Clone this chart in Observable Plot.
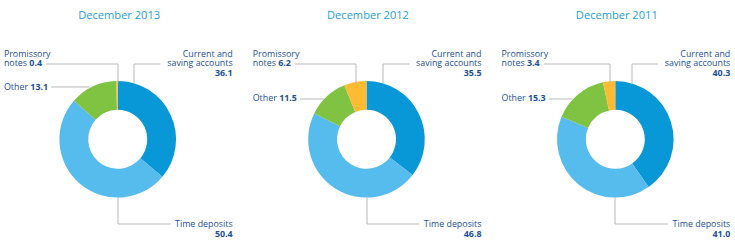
<!DOCTYPE html>
<html>
<head>
<meta charset="utf-8">
<script src="https://cdn.jsdelivr.net/npm/d3@7"></script>
<script src="https://cdn.jsdelivr.net/npm/@observablehq/plot@0.6"></script>
<style>
  body { margin: 0; background: #fff; }
  svg { display: block; }
</style>
</head>
<body>
<div id="chart"></div>
<script>
// ---------- data ----------
const periods = ["December 2013", "December 2012", "December 2011"];
const categories = ["Current and saving accounts", "Time deposits", "Other", "Promissory notes"];
const current = [36.1, 35.5, 40.3];
const timeDeposits = [50.4, 46.8, 41.0];
const other = [13.1, 11.5, 15.3];
const promissory = [0.4, 6.2, 3.4];
const colors = ["#0898d8", "#55bced", "#80c342", "#fdbb34"];

// ---------- layout ----------
const W = 735, H = 243;
const centerX = [117.7, 366.5, 615.3];
const centerY = 139.3, outerR = 58.3, innerR = 29.5;
const rightInset = 114.5, leftInset = 114.3;
const topLineY = 62.7, timeLineY = 223.3, lineStep = 9.8;
const otherDy = [-53, -41.6, -41.6];
const fontFamily = "'Open Sans', sans-serif";
const labelSize = 8.9, titleSize = 11.1;
const labelColor = "#1d5196", titleColor = "#1ea0dc", leaderColor = "#b9b9b9";

const fmt = v => v.toFixed(1);
const series = [current, timeDeposits, other, promissory];
const colorScale = Plot.scale({color: {type: "ordinal", domain: categories, range: colors}});

const ctx = document.createElement("canvas").getContext("2d");
function textWidth(s, bold) {
  ctx.font = `${bold ? "bold " : ""}${labelSize}px ${fontFamily}`;
  return ctx.measureText(s).width;
}
const px = v => Math.round(v) + 0.5;

const pies = periods.map((p, i) =>
  d3.pie().sort(null).value(d => d.value)(
    categories.map((c, j) => ({category: c, value: series[j][i]}))
  )
);

// labels and leader lines
const rightLabels = [];
const leftLabels = [];
const leaders = [];
periods.forEach((p, i) => {
  const cx = centerX[i];
  const rx = cx + rightInset, lx = cx - leftInset;
  rightLabels.push({x: rx, y: topLineY, text: `Current and\nsaving accounts\n${fmt(current[i])}`});
  rightLabels.push({x: rx, y: timeLineY + lineStep / 2, text: `Time deposits\n${fmt(timeDeposits[i])}`});
  leftLabels.push({x: lx, y: topLineY - lineStep / 2, text: `Promissory\nnotes ${fmt(promissory[i])}`});
  const oy = centerY + otherDy[i];
  leftLabels.push({x: lx, y: oy, text: `Other ${fmt(other[i])}`});

  // current leader
  const dxC = 15.6;
  const xc = px(cx + dxC);
  [[xc, centerY - Math.sqrt(outerR * outerR - dxC * dxC)], [xc, px(topLineY)], [cx + 41.8, px(topLineY)]]
    .forEach(([x, y]) => leaders.push({id: `c${i}`, x, y}));
  // promissory leader
  const a = pies[i][3];
  const mid = (a.startAngle + a.endAngle) / 2;
  const xp = px(cx + outerR * Math.sin(mid));
  const promEnd = lx + textWidth("notes ", false) + textWidth(fmt(promissory[i]), true) + 4.5;
  [[xp, centerY - outerR * Math.cos(mid) + 1], [xp, px(topLineY)], [promEnd, px(topLineY)]]
    .forEach(([x, y]) => leaders.push({id: `p${i}`, x, y}));
  // other leader
  const otherEnd = lx + textWidth("Other ", false) + textWidth(fmt(other[i]), true) + 3.5;
  const dy = otherDy[i];
  [[otherEnd, px(oy)], [cx - Math.sqrt(60.3 * 60.3 - dy * dy), px(oy)]]
    .forEach(([x, y]) => leaders.push({id: `o${i}`, x, y}));
  // time leader
  const xt = px(cx - 1);
  [[xt, centerY + outerR - 1], [xt, px(timeLineY)], [cx + 52, px(timeLineY)]]
    .forEach(([x, y]) => leaders.push({id: `t${i}`, x, y}));
});

const donuts = (index, scales) => {
  const g = d3.create("svg:g");
  periods.forEach((p, i) => {
    const ox = scales.x(centerX[i]), oy = scales.y(centerY);
    const ro = scales.x(centerX[i] + outerR) - ox;
    const ri = scales.x(centerX[i] + innerR) - ox;
    const arc = d3.arc().innerRadius(ri).outerRadius(ro);
    g.append("g")
      .attr("transform", `translate(${ox},${oy})`)
      .selectAll("path")
      .data(pies[i])
      .join("path")
      .attr("d", arc)
      .attr("fill", d => colorScale.apply(d.data.category));
  });
  return g.node();
};

const labelOpts = {
  x: "x", y: "y", text: "text",
  fill: labelColor, fontSize: labelSize, fontFamily, lineHeight: lineStep / labelSize
};

const chart = Plot.plot({
  width: W,
  height: H,
  margin: 0,
  style: {fontFamily, background: "#fff"},
  x: {domain: [0, W], range: [0, W], axis: null},
  y: {domain: [0, H], range: [0, H], axis: null},
  marks: [
    donuts,
    Plot.line(leaders, {x: "x", y: "y", z: "id", stroke: leaderColor, strokeWidth: 1}),
    Plot.text(periods, {
      x: (d, i) => centerX[i] + 1, y: () => 15, text: d => d,
      fill: titleColor, fontSize: titleSize, fontFamily
    }),
    Plot.text(rightLabels, {...labelOpts, textAnchor: "end"}),
    Plot.text(leftLabels, {...labelOpts, textAnchor: "start"})
  ]
});

// bold numbers
d3.select(chart).selectAll("text, tspan").each(function() {
  if (this.children.length) return;
  const t = this.textContent;
  const m = t.match(/^(.*?)(\d+\.\d)$/);
  if (!m) return;
  this.textContent = m[1];
  d3.select(this).append("tspan").attr("font-weight", "bold").text(m[2]);
});

document.getElementById("chart").appendChild(chart);
</script>
</body>
</html>
